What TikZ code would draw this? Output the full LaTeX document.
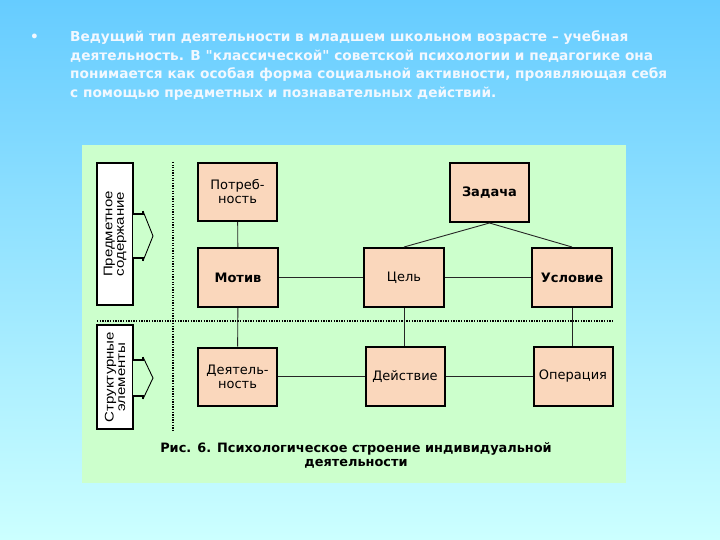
\documentclass[tikz,border=0pt]{standalone}
\usepackage{fontspec}
\usepackage{graphicx}
\setmainfont{DejaVu Sans}[Ligatures=TeXOff]
\newfontfamily\arialfont{Liberation Sans}
\definecolor{bgtop}{RGB}{102,204,255}
\definecolor{bgbot}{RGB}{204,255,255}
\definecolor{panel}{RGB}{204,255,204}
\definecolor{peach}{RGB}{250,215,188}
\definecolor{toptext}{RGB}{242,248,255}
\newcommand{\wideln}[1]{\scalebox{1.2}[1]{#1}}
\tikzset{
  elem/.style={draw=black, line width=2pt, fill=peach, inner sep=1pt, align=center,
    font=\fontsize{13}{14}\selectfont},
  elembf/.style={elem, font=\fontsize{13}{14}\selectfont\bfseries},
  lbl/.style={draw=black, line width=2pt, fill=white, rotate=90, inner sep=0pt, align=center,
    font=\arialfont\fontsize{12.5}{11.5}\selectfont},
  conn/.style={draw=black!85, line width=0.9pt},
  sep/.style={draw=black, line width=1.3pt, dash pattern=on 1.3pt off 1.3pt},
  toptxt/.style={anchor=base west, inner sep=0pt, text=toptext, font=\fontsize{13.7}{16}\selectfont\bfseries},
  shaft/.style={line width=2pt},
  head/.style={line width=0.9pt},
}
\begin{document}
\begin{tikzpicture}[x=1pt,y=-1pt]
\useasboundingbox (0,0) rectangle (720,540);
\shade[top color=bgtop, bottom color=bgbot] (0,0) rectangle (720,540);
% bullet text
\node[toptxt] (bul) at (30,42) {•};
\node[toptxt] (t1) at (70,42) {Ведущий тип деятельности в младшем школьном возрасте – учебная};
\node[toptxt] (t2) at (70,60.5) {деятельность. В "классической" советской психологии и педагогике она};
\node[toptxt] (t3) at (70,79) {понимается как особая форма социальной активности, проявляющая себя};
\node[toptxt] (t4) at (70,97.5) {с помощью предметных и познавательных действий.};
% panel
\fill[panel] (82,145) rectangle (626,483);
% separators
\draw[sep] (173,162) -- (173,432);
\draw[sep] (97,321) -- (614,321);
% label boxes
\node[lbl, minimum width=142pt, minimum height=36pt] (l1) at (115,234) {\wideln{Предметное}\\\wideln{содержание}};
\node[lbl, minimum width=104pt, minimum height=36pt] (l2) at (115,377) {\wideln{Структурные}\\\wideln{элементы}};
% arrows
\fill[panel] (133,214) -- (143,214) -- (153,236) -- (143,258) -- (133,258) -- cycle;
\draw[shaft] (133,214) -- (143,214) -- (143,211);
\draw[shaft] (133,258) -- (143,258) -- (143,261);
\draw[head] (143,211) -- (153,236) -- (143,261);
\fill[panel] (133,360) -- (143,360) -- (153,378) -- (143,396) -- (133,396) -- cycle;
\draw[shaft] (133,360) -- (143,360) -- (143,357);
\draw[shaft] (133,396) -- (143,396) -- (143,399);
\draw[head] (143,357) -- (153,378) -- (143,399);
% element boxes
\node[elem, minimum width=79pt, minimum height=58pt] (potr) at (237.5,192) {Потреб-\\ность};
\node[elembf, minimum width=79pt, minimum height=59pt] (zad) at (489.5,192.5) {Задача};
\node[elembf, minimum width=80pt, minimum height=59pt] (motiv) at (238,277.5) {Мотив};
\node[elem, minimum width=80pt, minimum height=59pt] (cel) at (404,277.5) {Цель};
\node[elembf, minimum width=80pt, minimum height=59pt] (usl) at (572,277.5) {Условие};
\node[elem, minimum width=79pt, minimum height=58pt] (deyat) at (237.5,376.5) {Деятель-\\ность};
\node[elem, minimum width=79pt, minimum height=59pt] (deystv) at (405,376.5) {Действие};
\node[elem, minimum width=79pt, minimum height=59pt] (oper) at (573,376.5) {Операция};
% connectors
\draw[conn] (potr) -- (motiv);
\draw[conn] (motiv) -- (deyat);
\draw[conn] (motiv) -- (cel);
\draw[conn] (cel) -- (usl);
\draw[conn] (deyat) -- (deystv);
\draw[conn] (deystv) -- (oper);
\draw[conn] (cel.south) -- (cel.south |- deystv.north);
\draw[conn] (usl.south) -- (usl.south |- oper.north);
\draw[conn] (zad.south) -- (cel.north);
\draw[conn] (zad.south) -- (usl.north);
% caption
\node[align=center, font=\fontsize{12.9}{14}\selectfont\bfseries] (cap) at (356,455) {Рис. 6. Психологическое строение индивидуальной\\деятельности};
\end{tikzpicture}
\end{document}
